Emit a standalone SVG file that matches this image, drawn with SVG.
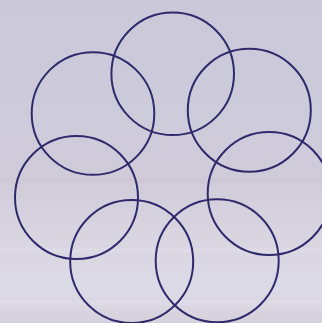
<svg xmlns="http://www.w3.org/2000/svg" width="322" height="323" viewBox="0 0 322 323">
<defs>
<linearGradient id="bg" x1="0" y1="0" x2="0" y2="1">
<stop offset="0" stop-color="#cac8d9"/>
<stop offset="0.4" stop-color="#cecbdb"/>
<stop offset="0.55" stop-color="#d0cbd9"/>
<stop offset="0.75" stop-color="#d9d6e2"/>
<stop offset="0.9" stop-color="#dcdae6"/>
<stop offset="1" stop-color="#d6d0dc"/>
</linearGradient>
<style>
.ring{fill:none;stroke:#2e2a6b;stroke-width:2}
</style>
</defs>
<rect width="322" height="323" fill="url(#bg)"/>
<rect y="178" width="322" height="6" fill="#c8c0d0" opacity="0.3"/>
<rect y="248" width="322" height="5" fill="#e2e0ea" opacity="0.35"/>
<rect y="300" width="322" height="6" fill="#e4e2ec" opacity="0.35"/>
<g id="c1"><circle class="ring" cx="172.7" cy="73.8" r="61.3"/></g>
<g id="c2"><circle class="ring" cx="93" cy="113.5" r="61.3"/></g>
<g id="c3"><circle class="ring" cx="249.3" cy="110.3" r="61.5"/></g>
<g id="c4"><circle class="ring" cx="76.5" cy="197.5" r="61.5"/></g>
<g id="c5"><circle class="ring" cx="269.2" cy="193.5" r="61.5"/></g>
<g id="c6"><circle class="ring" cx="131.7" cy="261.5" r="61.5"/></g>
<g id="c7"><circle class="ring" cx="217.2" cy="260.7" r="61.5"/></g>
</svg>
